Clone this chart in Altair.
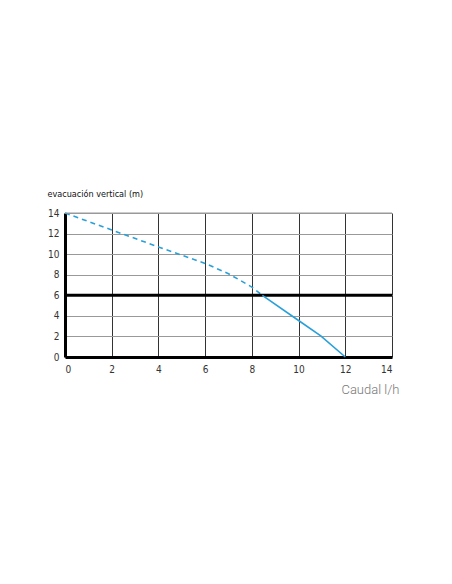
import altair as alt
import pandas as pd

# dashed (upper) part of the curve
dash_x = [0, 2, 4, 6, 7, 8, 8.45]
dash_y = [14, 12.35, 10.7, 9.1, 8.1, 6.8, 6.0]
# solid (lower) part of the curve
solid_x = [8.45, 10, 10.95, 12]
solid_y = [6.0, 3.55, 2.05, 0]
ticks = [0, 2, 4, 6, 8, 10, 12, 14]
limit_y = [6]
top_y = [14]

df_dash = pd.DataFrame({"x": dash_x, "y": dash_y})
df_solid = pd.DataFrame({"x": solid_x, "y": solid_y})
df_limit = pd.DataFrame({"y": limit_y})

FONT = "'DejaVu Sans Condensed', Roboto, sans-serif"
BLUE = "#2aa0da"

xs = alt.Scale(domain=[0, 14], nice=False, zero=False)
ys = alt.Scale(domain=[0, 14], nice=False, zero=False)

x_axis = alt.Axis(values=ticks, grid=True, gridColor="#333", gridWidth=1, gridOpacity=1,
                  domainColor="black", domainWidth=3, ticks=False, labelPadding=7,
                  labelOverlap=False,
                  labelFont=FONT, labelFontSize=10, labelColor="#333",
                  title="Caudal l/h", titleFont="Roboto", titleFontWeight=300,
                  titleFontSize=13, titleColor="#777", titleAlign="right",
                  titleAnchor="end", titleX=334, titleY=36, titleBaseline="alphabetic")
y_axis = alt.Axis(values=ticks, grid=True, gridColor="#999", gridWidth=1, gridOpacity=1,
                  domainColor="black", domainWidth=3, ticks=False, labelPadding=6,
                  labelOverlap=False, labelFlush=False,
                  labelFont=FONT, labelFontSize=10, labelColor="#333",
                  title="evacuación vertical (m)", titleFont=FONT, titleFontWeight="normal",
                  titleFontSize=9, titleColor="#111", titleAngle=0, titleAlign="left",
                  titleX=-18, titleY=-17, titleBaseline="alphabetic")

base = alt.Chart(df_dash).mark_line(color=BLUE, strokeWidth=1.6, strokeDash=[5, 4]).encode(
    x=alt.X("x:Q", scale=xs, axis=x_axis),
    y=alt.Y("y:Q", scale=ys, axis=y_axis),
)

top = alt.Chart(pd.DataFrame({"y": top_y})).mark_rule(color="#999", strokeWidth=1).encode(
    y=alt.Y("y:Q", scale=ys, axis=y_axis)
)

solid = alt.Chart(df_solid).mark_line(color=BLUE, strokeWidth=1.6).encode(
    x=alt.X("x:Q", scale=xs, axis=x_axis),
    y=alt.Y("y:Q", scale=ys, axis=y_axis),
)

limit = alt.Chart(df_limit).mark_rule(color="black", strokeWidth=3).encode(
    y=alt.Y("y:Q", scale=ys, axis=y_axis)
)

chart = alt.layer(base, top, limit, solid).properties(
    width=327, height=144,
    autosize=alt.AutoSizeParams(type="none"),
    padding={"left": 57, "top": 205, "right": 52, "bottom": 219},
).configure_view(stroke=None).configure_axis(labelOverlap=False)

chart.save("out.html", embed_options={"renderer": "svg", "actions": False})
